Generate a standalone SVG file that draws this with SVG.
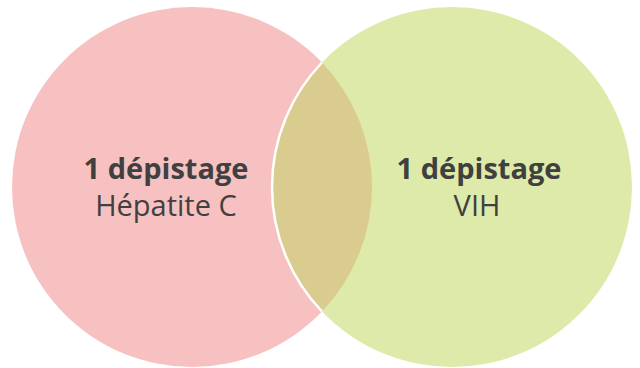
<svg xmlns="http://www.w3.org/2000/svg" width="640" height="368" viewBox="0 0 640 368">
<style>
.t{font-family:"Open Sans","Noto Sans",sans-serif;font-size:29px;fill:#404040;text-anchor:middle}
.b{font-weight:bold}
</style>
<rect width="640" height="368" fill="#ffffff"/>
<g id="hepatite">
<circle cx="192" cy="187" r="180" fill="#F7C1C1"/>
</g>
<g id="vih">
<circle cx="452" cy="187" r="180" fill="#DEEAA9"/>
</g>
<g id="intersection">
<path d="M322,62.5 A180,180 0 0,0 322,311.5 A180,180 0 0,0 322,62.5 Z" fill="#DACB8E"/>
<path d="M322,62.5 A180,180 0 0,0 322,311.5" fill="none" stroke="#ffffff" stroke-width="2.5"/>
</g>
<g id="labels">
<text class="t b" x="166" y="179">1 dépistage</text>
<text class="t" x="166" y="216">Hépatite C</text>
<text class="t b" x="479" y="179">1 dépistage</text>
<text class="t" x="477" y="216">VIH</text>
</g>
</svg>
